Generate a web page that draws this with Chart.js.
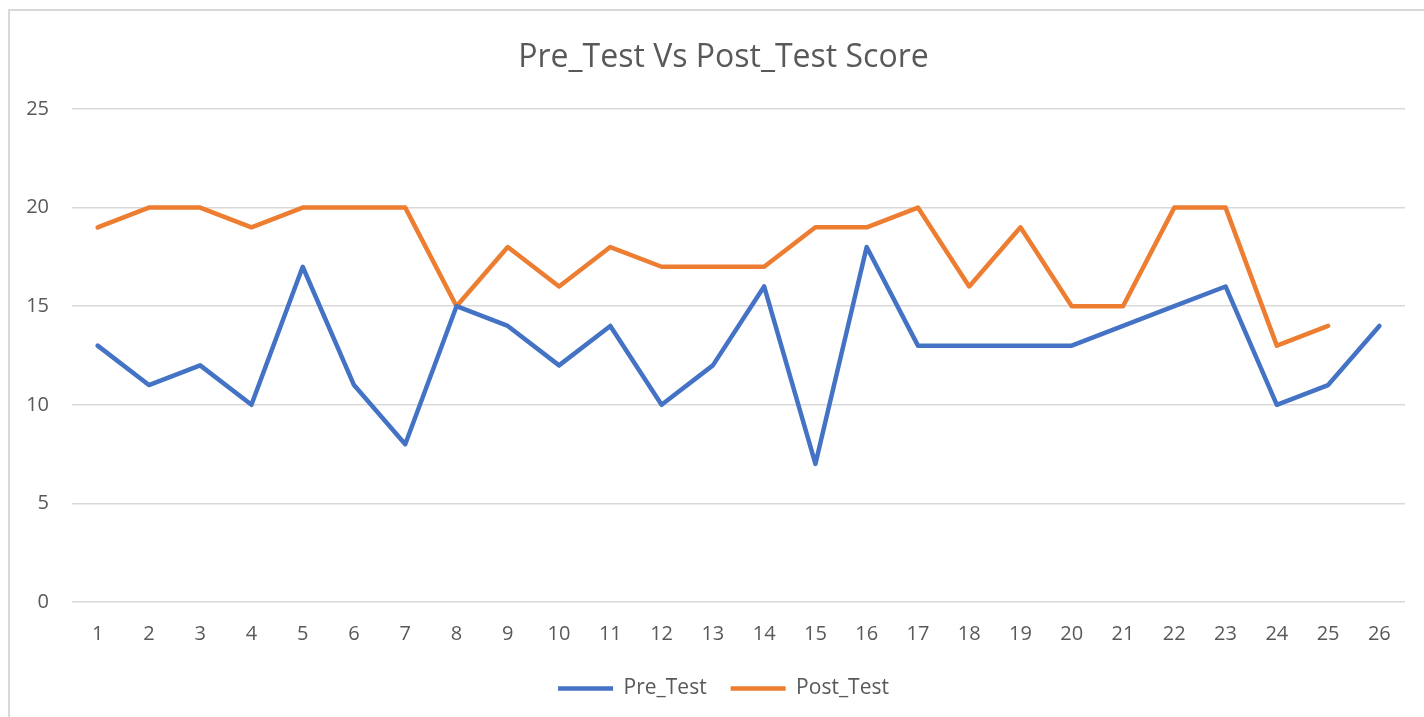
<!DOCTYPE html>
<html>
<head>
<meta charset="utf-8">
<script src="https://cdn.jsdelivr.net/npm/chart.js@4"></script>
<style>
  html, body { margin: 0; padding: 0; background: #fff; overflow: hidden; }
  #box {
    position: absolute; left: 8px; top: 9px;
    width: 1426px; height: 730px;
    border: 2px solid #d9d9d9;
  }
  #scoreChart { display: block; }
</style>
</head>
<body>
<div id="box"><canvas id="scoreChart" width="1426" height="730"></canvas></div>
<script>
// data
const students = ['1','2','3','4','5','6','7','8','9','10','11','12','13','14','15','16','17','18','19','20','21','22','23','24','25','26'];
const preTest  = [13, 11, 12, 10, 17, 11, 8, 15, 14, 12, 14, 10, 12, 16, 7, 18, 13, 13, 13, 13, 14, 15, 16, 10, 11, 14];
const postTest = [19, 20, 20, 19, 20, 20, 20, 15, 18, 16, 18, 17, 17, 17, 19, 19, 20, 16, 19, 15, 15, 20, 20, 13, 14, null];
const yTicks = [0, 5, 10, 15, 20, 25];

const textColor = '#595959';
const gridColor = '#d9d9d9';
const fontFamily = "'Open Sans', 'Liberation Sans', sans-serif";

document.addEventListener("DOMContentLoaded", () => {
    const ctx = document.getElementById('scoreChart').getContext('2d');

    new Chart(ctx, {
        type: 'line',
        data: {
            labels: students,
            datasets: [{
                label: 'Pre_Test',
                data: preTest,
                borderColor: '#4472C4',
                backgroundColor: '#4472C4',
                borderWidth: 4.5,
                borderCapStyle: 'round',
                borderJoinStyle: 'round',
                pointRadius: 0,
                tension: 0
            }, {
                label: 'Post_Test',
                data: postTest,
                borderColor: '#ED7D31',
                backgroundColor: '#ED7D31',
                borderWidth: 4.5,
                borderCapStyle: 'round',
                borderJoinStyle: 'round',
                pointRadius: 0,
                tension: 0
            }]
        },
        options: {
            responsive: false,
            animation: false,
            layout: { padding: { left: 16, right: 15, top: 0, bottom: 32 } },
            plugins: {
                title: {
                    display: true,
                    text: 'Pre_Test Vs Post_Test Score',
                    color: textColor,
                    font: { family: fontFamily, size: 32, weight: 'normal' },
                    padding: { top: 28, bottom: 31.6 }
                },
                legend: {
                    display: true,
                    position: 'bottom',
                    labels: {
                        color: textColor,
                        font: { family: fontFamily, size: 21 },
                        usePointStyle: true,
                        pointStyle: 'line',
                        pointStyleWidth: 55,
                        boxHeight: 20,
                        padding: 24
                    }
                },
                tooltip: { enabled: false }
            },
            scales: {
                x: {
                    offset: true,
                    grid: { display: false, drawTicks: false },
                    border: { display: false },
                    ticks: {
                        color: textColor,
                        font: { family: fontFamily, size: 20 },
                        padding: 20,
                        maxRotation: 0,
                        autoSkip: false
                    },
                    afterFit: (scale) => { scale.height = 52; }
                },
                y: {
                    min: 0,
                    max: 25,
                    afterBuildTicks: (scale) => { scale.ticks = yTicks.map(v => ({ value: v })); },
                    grid: { color: gridColor, lineWidth: 1.5, drawTicks: false },
                    border: { display: false },
                    ticks: {
                        color: textColor,
                        font: { family: fontFamily, size: 20 },
                        padding: 23
                    },
                    afterFit: (scale) => { scale.width = 46; }
                },
                // empty right axis, only used to leave space on the right side
                yRight: {
                    position: 'right',
                    min: 0,
                    max: 25,
                    grid: { display: false, drawTicks: false },
                    border: { display: false },
                    ticks: { display: false },
                    afterFit: (scale) => { scale.width = 16; }
                }
            }
        }
    });
});
</script>
</body>
</html>
